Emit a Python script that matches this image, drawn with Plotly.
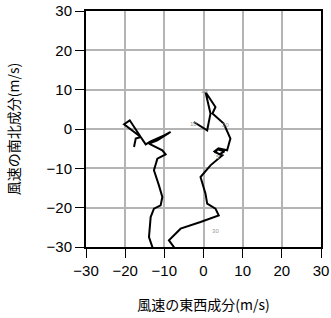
import plotly.graph_objects as go

# hodograph wind components (m/s)
u_vals = [-2.47, 0.94, 1.78, 0.51, 3.05, 2.29, 5.17, 6.87, 6.03,
          3.82, 2.8, 4.07, 5.34, 3.56, 3.05, 4.83,
          1.78, -0.76, 0.51, 0.94, 3.05, 3.89, -0.76, -5.85, -8.83, -7.56, -6.87,
          -13.49, -13.05, -13.92, -13.49, -12.65, -10.94, -10.51, -11.38, -12.65,
          -11.78, -9.67, -10.51, -11.38, -13.92, -11.78, -8.4, -10.94, -8.91,
          -13.49, -14.76, -16.03, -18.83, -20.28, -16.03, -17.3, -17.74]
v_vals = [1.78, -0.33, 3.92, 9.41, 5.6, 3.92, 1.37, -2.44, -5.42,
          -4.91, -5.67, -6.44, -5.67, -5.17, -5.93, -6.69,
          -9.24, -12.21, -16.44, -18.98, -20.25, -21.96, -23.66, -25.34, -28.32, -30.03, -31.4,
          -31.4, -30.03, -27.48, -22.39, -20.25, -19.41, -17.3, -14.33, -10.51,
          -7.53, -6.44, -5.42, -4.99, -3.72, -2.88, -0.76, -2.11, -1.09,
          -3.13, -3.89, -2.04, 2.21, 1.2, -2.04, -2.44, -4.58]

label_u = [0.25, -2.6, 5.6, 3.6, 3.05]
label_v = [9.6, 1.2, 0.9, -7.2, -26.0]
label_text = ["25", "10", "20", "5", "30"]

tick_vals = [-30, -20, -10, 0, 10, 20, 30]
tick_text = ["\u221230", "\u221220", "\u221210", "0", "10", "20", "30"]

fig = go.Figure()
fig.add_trace(go.Scatter(x=u_vals, y=v_vals, mode="lines",
                         line=dict(color="black", width=2), showlegend=False,
                         hoverinfo="skip"))
fig.add_trace(go.Scatter(x=label_u, y=label_v, mode="text", text=label_text,
                         textfont=dict(size=6, color="#999999",
                                       family="Liberation Sans"),
                         showlegend=False, hoverinfo="skip"))

axis_common = dict(range=[-30, 30], tickvals=tick_vals, ticktext=tick_text,
                   showgrid=True, gridcolor="#b4b4b4", gridwidth=1.5,
                   zeroline=False, showline=True, linecolor="black",
                   linewidth=2, mirror=True, ticks="outside", ticklen=9,
                   tickwidth=1, tickcolor="black", automargin=False,
                   tickfont=dict(family="Liberation Sans", size=15,
                                 color="black"))

fig.update_xaxes(**axis_common,
                 title=dict(text="風速の東西成分(m/s)", standoff=22,
                            font=dict(family="Noto Sans CJK JP", size=14,
                                      color="black")))
fig.update_yaxes(**axis_common,
                 title=dict(text="風速の南北成分(m/s)", standoff=24,
                            font=dict(family="Noto Sans CJK JP", size=14,
                                      color="black")))

fig.update_layout(width=331, height=318,
                  margin=dict(l=86, r=10, t=11, b=71),
                  paper_bgcolor="white", plot_bgcolor="white")

fig.write_html("out.html")
